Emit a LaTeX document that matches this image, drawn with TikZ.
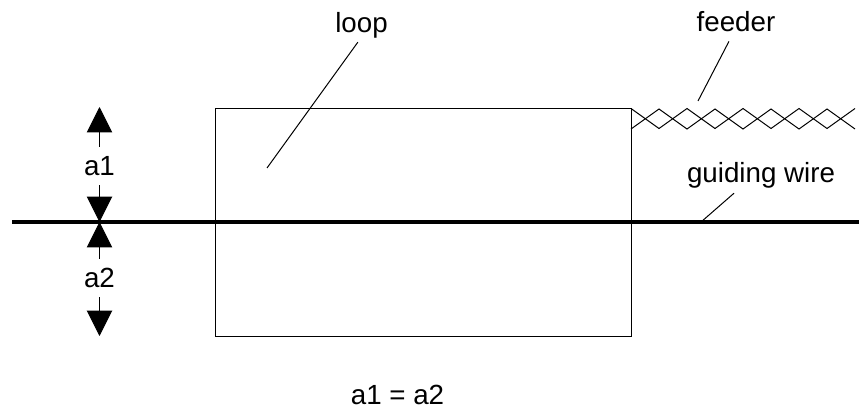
\documentclass[tikz,border=0pt]{standalone}
\usepackage{fontspec}
\setmainfont{Liberation Sans}
\usetikzlibrary{arrows.meta}

\tikzset{
  lbl/.style={inner sep=0pt,font=\fontsize{20.8}{25}\selectfont},
  dimlbl/.style={lbl,inner ysep=7pt},
  thin line/.style={line width=0.75pt,black},
  dimline/.style={line width=0.75pt,-{Triangle[length=19pt,width=19pt]}},
}

\begin{document}
\begin{tikzpicture}[x=0.75pt,y=-0.75pt]
        \useasboundingbox (0,0) rectangle (859,407);

        \coordinate (TL) at (215,108.5);
        \coordinate (BR) at (631,336);
        \coordinate (wireL) at (12,222);
        \coordinate (wireR) at (859,222);
        \coordinate (up) at (99.5,107);
        \coordinate (mid) at (99.5,222);
        \coordinate (down) at (99.5,336);

        % Draw the loop
        \draw[thin line] (TL) rectangle (BR);

        % Draw the twisted feeder
        \draw[thin line] (BR|-TL) -- ++(28,20) -- ++(28,-20) -- ++(28,20) -- ++(28,-20) -- ++(28,20) -- ++(28,-20) -- ++(28,20) -- ++(28,-20);
        \draw[thin line] (631,129) -- ++(28,-20) -- ++(28,20) -- ++(28,-20) -- ++(28,20) -- ++(28,-20) -- ++(28,20) -- ++(28,-20) -- ++(28,20);

        % Draw the guiding wire
        \draw[line width=3pt] (wireL) -- (wireR);

        % Labels
        \node[lbl,inner ysep=3pt] (loop) at (361.5,25) {loop};
        \node[lbl,inner ysep=6.75pt] (feeder) at (736,22) {feeder};
        \node[lbl,inner ysep=3.75pt] (guiding) at (761,175) {guiding wire};
        \node[lbl] (equal) at (397.5,394.5) {a1 = a2};
        \node[dimlbl] (a1) at (99.5,166) {a1};
        \node[dimlbl] (a2) at (99.5,278) {a2};

        % Draw the leaders
        \coordinate (looptip) at (267,168);
        \coordinate (feedertip) at (698,101);
        \coordinate (guidingtip) at (701,222);
        \draw[thin line] (loop.258) -- (looptip);
        \draw[thin line] (feeder.250) -- (feedertip);
        \draw[thin line] (guiding.214) -- (guidingtip);

        % Draw the distances
        \draw[dimline] (a1) -- (up);
        \draw[dimline] (a1) -- (mid);
        \draw[dimline] (a2) -- (mid);
        \draw[dimline] (a2) -- (down);
\end{tikzpicture}
\end{document}
